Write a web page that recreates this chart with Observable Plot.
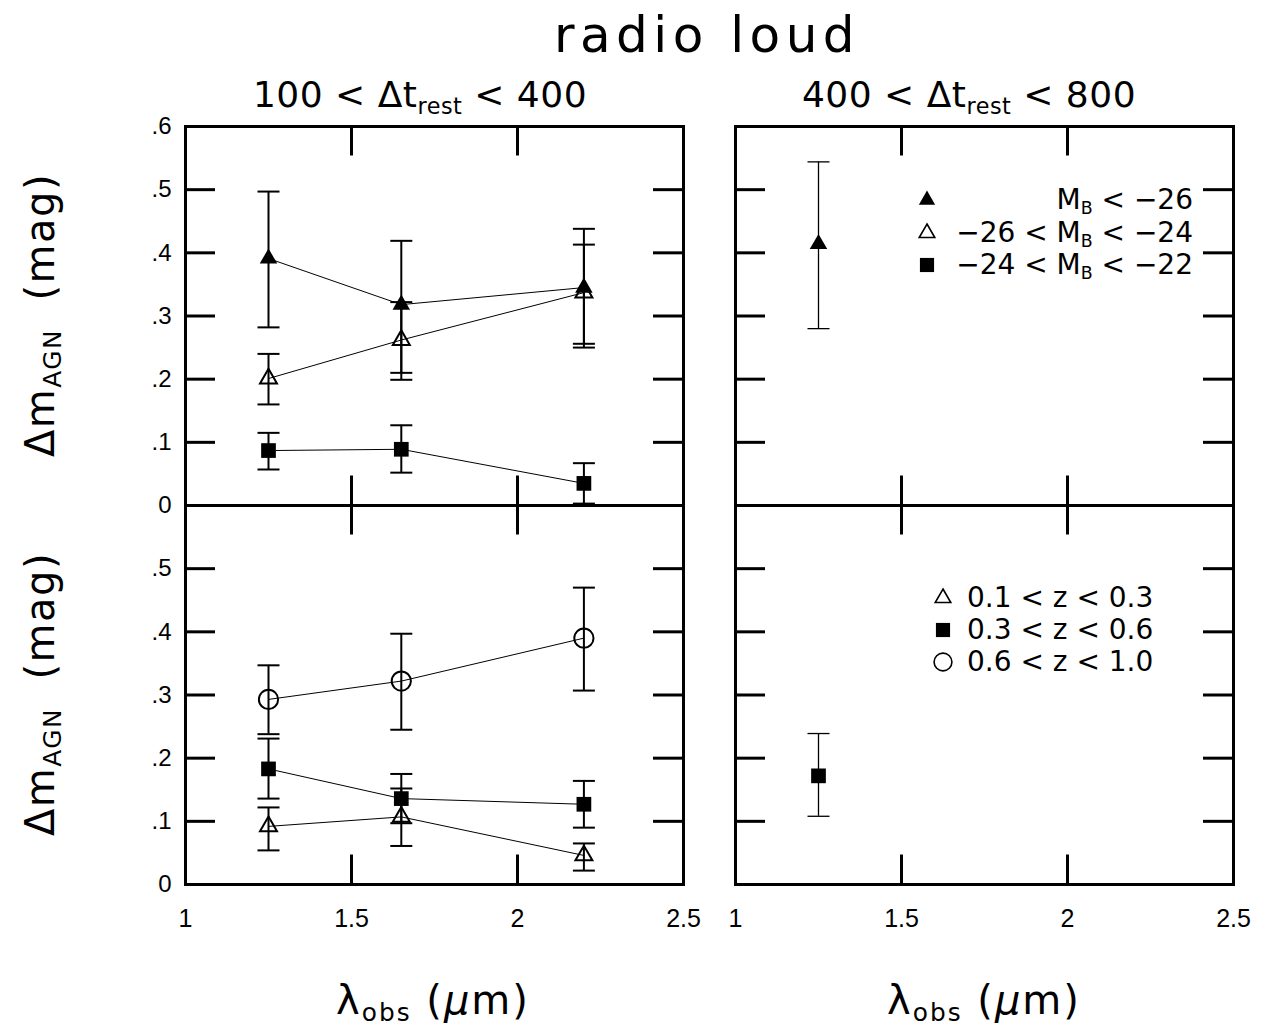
<!DOCTYPE html>
<html>
<head>
<meta charset="utf-8">
<script src="https://cdn.jsdelivr.net/npm/d3@7"></script>
<script src="https://cdn.jsdelivr.net/npm/@observablehq/plot@0.6"></script>
<style>
  body { margin: 0; background: #fff; }
  #wrap { position: relative; width: 1267px; height: 1031px; overflow: hidden; background: #fff;
          font-family: "DejaVu Sans", sans-serif; color: #000; }
  .lbl { position: absolute; white-space: nowrap; line-height: 1; }
  .sub { font-size: 0.62em; position: relative; top: 0.3em; }
  .legend { position: absolute; font-size: 28px; line-height: 1; }
  .legend .row { display: flex; align-items: center; white-space: nowrap; }
</style>
</head>
<body>
<div id="wrap">
  <div id="plot" style="position:absolute;left:0;top:0"></div>
  <div class="lbl" id="title" style="left:707px;top:10px;font-size:50px;letter-spacing:5.5px;transform:translateX(-50%)"></div>
  <div class="lbl" id="sub0" style="left:420px;top:77px;font-size:36px;letter-spacing:0.5px;transform:translateX(-50%)"></div>
  <div class="lbl" id="sub1" style="left:969px;top:77px;font-size:36px;letter-spacing:0.5px;transform:translateX(-50%)"></div>
  <div class="lbl ylab" id="ylab0" style="left:40px;top:315px;font-size:40px;letter-spacing:1.5px;transform:translate(-50%,-50%) rotate(-90deg)"></div>
  <div class="lbl ylab" id="ylab1" style="left:40px;top:694px;font-size:40px;letter-spacing:1.5px;transform:translate(-50%,-50%) rotate(-90deg)"></div>
  <div class="lbl" id="xlab0" style="left:433px;top:980px;font-size:40px;letter-spacing:2px;transform:translateX(-50%)"></div>
  <div class="lbl" id="xlab1" style="left:984px;top:980px;font-size:40px;letter-spacing:2px;transform:translateX(-50%)"></div>
  <div class="legend" id="legTop" style="left:915px;top:184px;width:278px"></div>
  <div class="legend" id="legBottom" style="left:931px;top:582px"></div>
</div>
<script>
// ---------------- data ----------------
const titleText = "radio loud";
const panelTitles = ["100 < Δt_rest < 400", "400 < Δt_rest < 800"];
const yAxisLabel = "Δm_AGN  (mag)";
const xAxisLabel = "λ_obs (μm)";

const xTicks = [1, 1.5, 2, 2.5];
const xInnerTicks = [1.5, 2];
const yTicksTop = [0, 0.1, 0.2, 0.3, 0.4, 0.5, 0.6];
const yTicksBottom = [0, 0.1, 0.2, 0.3, 0.4, 0.5];
const yInnerTicks = [0.1, 0.2, 0.3, 0.4, 0.5];

const lambdaObs = [1.25, 1.65, 2.2];
const lambdaLong = [1.25];

// luminosity bins, 100 < Δt_rest < 400
const lumLabels = ["M_B < −26", "−26 < M_B < −24", "−24 < M_B < −22"];
const lumBright   = [0.391, 0.318, 0.345];
const lumBrightLo = [0.282, 0.210, 0.250];
const lumBrightHi = [0.497, 0.419, 0.438];
const lumMid      = [0.201, 0.262, 0.337];
const lumMidLo    = [0.160, 0.199, 0.256];
const lumMidHi    = [0.240, 0.322, 0.413];
const lumFaint    = [0.087, 0.089, 0.035];
const lumFaintLo  = [0.057, 0.052, 0.003];
const lumFaintHi  = [0.115, 0.127, 0.067];
// luminosity bins, 400 < Δt_rest < 800
const lumBrightLong   = [0.414];
const lumBrightLongLo = [0.280];
const lumBrightLongHi = [0.544];

// redshift bins, 100 < Δt_rest < 400
const zLabels = ["0.1 < z < 0.3", "0.3 < z < 0.6", "0.6 < z < 1.0"];
const zLow    = [0.092, 0.107, 0.046];
const zLowLo  = [0.054, 0.061, 0.022];
const zLowHi  = [0.122, 0.152, 0.065];
const zMid    = [0.183, 0.136, 0.127];
const zMidLo  = [0.136, 0.097, 0.090];
const zMidHi  = [0.231, 0.175, 0.164];
const zHigh   = [0.293, 0.322, 0.390];
const zHighLo = [0.238, 0.245, 0.307];
const zHighHi = [0.347, 0.397, 0.470];
// redshift bins, 400 < Δt_rest < 800
const zMidLong   = [0.172];
const zMidLongLo = [0.108];
const zMidLongHi = [0.239];

// ---------------- build tables ----------------
function series(fx, fy, key, style, xs, ys, los, his) {
  return xs.map((x, i) => ({fx, fy, key, style, x, y: ys[i], lo: los[i], hi: his[i]}));
}
const rows = [
  ...series("L", "T", "lumBright", "triFilled", lambdaObs, lumBright, lumBrightLo, lumBrightHi),
  ...series("L", "T", "lumMid", "triOpen", lambdaObs, lumMid, lumMidLo, lumMidHi),
  ...series("L", "T", "lumFaint", "square", lambdaObs, lumFaint, lumFaintLo, lumFaintHi),
  ...series("R", "T", "lumBrightLong", "triFilled", lambdaLong, lumBrightLong, lumBrightLongLo, lumBrightLongHi),
  ...series("L", "B", "zLow", "triOpen", lambdaObs, zLow, zLowLo, zLowHi),
  ...series("L", "B", "zMid", "square", lambdaObs, zMid, zMidLo, zMidHi),
  ...series("L", "B", "zHigh", "circle", lambdaObs, zHigh, zHighLo, zHighHi),
  ...series("R", "B", "zMidLong", "square", lambdaLong, zMidLong, zMidLongLo, zMidLongHi)
];
const capRows = rows.flatMap(d => [{...d, v: d.lo}, {...d, v: d.hi}]);

const fmtY = v => v === 0 ? "0" : d3.format(".1f")(v).replace(/^0\./, ".");
const yLabelRows = [
  ...yTicksTop.map(v => ({fx: "L", fy: "T", v, label: fmtY(v)})),
  ...yTicksBottom.filter(v => v > 0).map(v => ({fx: "L", fy: "B", v, label: fmtY(v)})),
  {fx: "L", fy: "B", v: 0, label: "0"}
];
const xLabelRows = xTicks.map(v => ({fy: "B", v, label: String(v)}));

// ---------------- layout ----------------
const W = 1267, H = 1031;
const mL = 185, mR = 34, mT = 125, mB = 147;
const gap = 52;
const panelW = (W - mL - mR - gap) / 2;
const panelH = (H - mT - mB) / 2;
const tickLen = 30;
const capWidth = 22;
const sw = d => d.fx === "L" ? 2 : 1.3;

const capSymbol = {
  draw(ctx, size) {
    const w = Math.sqrt(size);
    ctx.moveTo(-w / 2, 0);
    ctx.lineTo(w / 2, 0);
  }
};
const ch = {fx: "fx", fy: "fy", x: "x", y: "y"};

const chart = Plot.plot({
  width: W, height: H,
  marginLeft: mL, marginRight: mR, marginTop: mT, marginBottom: mB,
  style: {fontFamily: "'Liberation Sans', Arial, sans-serif", background: "#fff", overflow: "visible"},
  x: {domain: [1, 2.5], axis: null},
  y: {domain: [0, 0.6], axis: null},
  fx: {domain: ["L", "R"], paddingInner: gap / (panelW + gap), paddingOuter: 0, axis: null, label: null},
  fy: {domain: ["T", "B"], paddingInner: 0, paddingOuter: 0, axis: null, label: null},
  marks: [
    Plot.line(rows, {...ch, z: "key", stroke: "black", strokeWidth: 1}),
    Plot.ruleX(rows, {fx: "fx", fy: "fy", x: "x", y1: "lo", y2: "hi", stroke: "black", strokeWidth: sw}),
    Plot.dot(capRows, {fx: "fx", fy: "fy", x: "x", y: "v", symbol: capSymbol, r: capWidth / Math.sqrt(Math.PI),
      fill: "none", stroke: "black", strokeWidth: sw}),
    Plot.dot(rows.filter(d => d.style === "triFilled"), {...ch, symbol: "triangle", r: 6.5, fill: "black", stroke: "none"}),
    Plot.dot(rows.filter(d => d.style === "triOpen"), {...ch, symbol: "triangle", r: 6.3, fill: "none", stroke: "black", strokeWidth: 2}),
    Plot.dot(rows.filter(d => d.style === "square"), {...ch, symbol: "square", r: 8.3, fill: "black", stroke: "none"}),
    Plot.dot(rows.filter(d => d.style === "circle"), {...ch, symbol: "circle", r: 9.6, fill: "none", stroke: "black", strokeWidth: 2}),
    Plot.frame({stroke: "black", strokeWidth: 3}),
    Plot.ruleX(xInnerTicks, {insetBottom: panelH - tickLen, stroke: "black", strokeWidth: 3}),
    Plot.ruleX(xInnerTicks, {insetTop: panelH - tickLen, stroke: "black", strokeWidth: 3}),
    Plot.ruleY(yInnerTicks, {insetRight: panelW - tickLen, stroke: "black", strokeWidth: 3}),
    Plot.ruleY(yInnerTicks, {insetLeft: panelW - tickLen, stroke: "black", strokeWidth: 3}),
    Plot.text(yLabelRows, {fx: "fx", fy: "fy", y: "v", text: "label", frameAnchor: "left",
      textAnchor: "end", dx: -14, fontSize: 24, fill: "black"}),
    Plot.text(xLabelRows, {fy: "fy", x: "v", text: "label", frameAnchor: "bottom",
      lineAnchor: "middle", dy: 34, fontSize: 25, fill: "black"})
  ]
});
document.getElementById("plot").appendChild(chart);

// ---------------- text ----------------
function esc(s) { return s.replace(/&/g, "&amp;").replace(/</g, "&lt;").replace(/>/g, "&gt;"); }
function rich(s) {
  return esc(s).replace(/(\S)_([A-Za-z]+)/g, '$1<span class="sub">$2</span>').replace(/μ/g, "<i>μ</i>");
}
document.getElementById("title").textContent = titleText;
document.getElementById("sub0").innerHTML = rich(panelTitles[0]);
document.getElementById("sub1").innerHTML = rich(panelTitles[1]);
document.getElementById("ylab0").innerHTML = rich(yAxisLabel).replace("  ", "&nbsp;&nbsp;");
document.getElementById("ylab1").innerHTML = rich(yAxisLabel).replace("  ", "&nbsp;&nbsp;");
document.getElementById("xlab0").innerHTML = rich(xAxisLabel);
document.getElementById("xlab1").innerHTML = rich(xAxisLabel);

function swatch(style) {
  const sym = {triFilled: d3.symbolTriangle, triOpen: d3.symbolTriangle, square: d3.symbolSquare, circle: d3.symbolCircle}[style];
  const size = {triFilled: 115, triOpen: 105, square: 200, circle: 250}[style];
  const filled = style === "triFilled" || style === "square";
  const path = d3.symbol(sym, size)();
  return `<svg width="24" height="24" viewBox="-12 -12 24 24"><path d="${path}" fill="${filled ? "black" : "none"}" stroke="${filled ? "none" : "black"}" stroke-width="1.6"/></svg>`;
}
const legTop = document.getElementById("legTop");
const lumStyles = ["triFilled", "triOpen", "square"];
legTop.innerHTML = lumLabels.map((l, i) =>
  `<div class="row" style="height:32.5px;justify-content:space-between">${swatch(lumStyles[i])}<span>${rich(l)}</span></div>`).join("");
const legBottom = document.getElementById("legBottom");
const zStyles = ["triOpen", "square", "circle"];
legBottom.innerHTML = zLabels.map((l, i) =>
  `<div class="row" style="height:32px">${swatch(zStyles[i])}<span style="margin-left:12px">${rich(l)}</span></div>`).join("");
</script>
</body>
</html>
